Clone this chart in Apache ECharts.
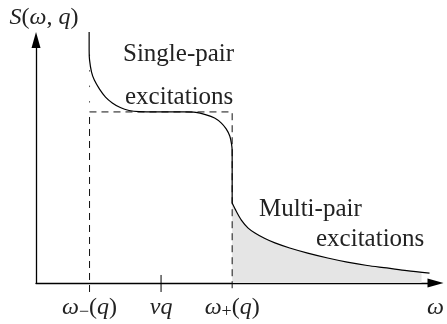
<!DOCTYPE html>
<html>
<head>
<meta charset="utf-8">
<script src="https://cdn.jsdelivr.net/npm/echarts@6/dist/echarts.min.js"></script>
<style>
  html, body { margin: 0; padding: 0; background: #fff; }
  #chart { width: 447px; height: 324px; }
</style>
</head>
<body>
<div id="chart"></div>
<script>
// Positions on the ω axis (arbitrary units, 0..100)
const omegaMinus = 13.4;
const vq = 31.3;
const omegaPlus = 49.1;
const omegaEnd = 100;

// Tick labels on the ω axis
const tickValues = [omegaMinus, vq, omegaPlus, omegaEnd];
const tickLabels = [
  '{it|ω}{sub|−}{rm|(}{it|q}{rm|)}',
  '{it|vq}',
  '{it|ω}{sub|+}{rm|(}{it|q}{rm|)}',
  '{it|ω}'
];

// Single-pair continuum: divergence at ω−, plateau, drop at ω+
const singleX = [13.3, 13.3, 13.4, 13.9, 14.6, 15.9, 17.4, 19.1, 21.1, 23.3, 25.8, 30.8, 37.0, 40.0, 42.4, 44.7, 46.4, 47.6, 48.5, 48.9, 49.1, 49.1];
const singleY = [103.3, 95.9, 91.8, 86.8, 83.5, 79.8, 76.5, 74.1, 72.2, 71.0, 70.5, 70.4, 70.4, 70.2, 69.3, 67.9, 65.8, 63.4, 60.5, 57.6, 54.7, 32.9];

// Multi-pair tail above ω+
const multiX = [49.1, 50.1, 51.4, 53.1, 54.8, 57.3, 59.8, 63.5, 68.0, 73.0, 77.9, 82.9, 87.8, 92.8, 98.5];
const multiY = [32.9, 29.6, 25.9, 22.6, 20.6, 18.3, 16.5, 14.4, 12.3, 10.3, 8.6, 7.2, 6.2, 5.1, 4.1];

// Shaded weight of the multi-pair tail
const shadeX = [49.1, 50.1, 51.4, 53.1, 54.8, 57.3, 59.8, 63.5, 68.0, 73.0, 77.9, 82.9, 87.8, 92.8, 96.5];
const shadeY = [32.9, 29.6, 25.9, 22.6, 20.6, 18.3, 16.5, 14.4, 12.3, 10.3, 8.6, 7.2, 6.2, 5.1, 4.5];

// Plateau level of the dashed box and its extent below the axis
const plateau = 70.4;
const dropBelow = -3.7;
const dottedTop = 94;
const vqTickTop = 3.3;

const zip = (xs, ys) => xs.map((x, i) => [x, ys[i]]);

const serif = '"Liberation Serif", "DejaVu Serif", serif';
const ink = '#222';
const mathRich = {
  it: { fontFamily: serif, fontStyle: 'italic', fontSize: 24, lineHeight: 26, color: ink },
  rm: { fontFamily: serif, fontSize: 24, lineHeight: 26, color: ink },
  sub: { fontFamily: serif, fontSize: 18, lineHeight: 13, verticalAlign: 'bottom', color: ink }
};

const chart = echarts.init(document.getElementById('chart'), null, { renderer: 'canvas' });

const plain = (extra) => Object.assign({
  type: 'line',
  symbol: 'none',
  silent: true,
  clip: false,
  animation: false
}, extra);

chart.setOption({
  animation: false,
  backgroundColor: '#fff',
  grid: { left: 36, right: 8, top: 40, bottom: 41 },
  xAxis: {
    type: 'value',
    min: 0,
    max: 100,
    axisLine: {
      show: true,
      symbol: ['none', 'triangle'],
      symbolSize: [9, 16],
      lineStyle: { color: '#000', width: 1.3 }
    },
    axisTick: { show: false },
    splitLine: { show: false },
    axisLabel: {
      customValues: tickValues,
      margin: 12,
      formatter: (v) => {
        const i = tickValues.indexOf(v);
        return i >= 0 ? tickLabels[i] : '';
      },
      rich: mathRich
    }
  },
  yAxis: {
    type: 'value',
    min: 0,
    max: 100,
    axisLine: {
      show: true,
      symbol: ['none', 'triangle'],
      symbolSize: [9, 16],
      lineStyle: { color: '#000', width: 1.3 }
    },
    axisTick: { show: false },
    axisLabel: { show: false },
    splitLine: { show: false },
    name: '{it|S}{rm|(}{it|ω}{rm|, }{it|q}{rm|)}',
    nameLocation: 'end',
    nameGap: 9,
    nameTextStyle: { padding: [0, 0, 0, 16], rich: mathRich }
  },
  graphic: [
    { type: 'text', left: 123, top: 42, silent: true,
      style: { text: 'Single-pair', font: '25px ' + serif, fill: ink } },
    { type: 'text', left: 125, top: 85, silent: true,
      style: { text: 'excitations', font: '25px ' + serif, fill: ink } },
    { type: 'text', left: 259, top: 197, silent: true,
      style: { text: 'Multi-pair', font: '25px ' + serif, fill: ink } },
    { type: 'text', left: 316, top: 227, silent: true,
      style: { text: 'excitations', font: '25px ' + serif, fill: ink } }
  ],
  series: [
    plain({
      name: 'multi-pair weight',
      data: zip(shadeX, shadeY),
      smooth: 0.3,
      lineStyle: { width: 0 },
      areaStyle: { color: '#e5e5e5', opacity: 1 },
      z: 1
    }),
    plain({
      name: 'single-pair',
      data: zip(singleX, singleY),
      smooth: 0.25,
      lineStyle: { color: '#000', width: 1.2 },
      z: 3
    }),
    plain({
      name: 'multi-pair',
      data: zip(multiX, multiY),
      smooth: 0.3,
      lineStyle: { color: '#000', width: 1.2 },
      z: 3
    }),
    plain({
      name: 'single-pair box',
      data: [[omegaMinus, dropBelow], [omegaMinus, plateau], [omegaPlus, plateau], [omegaPlus, dropBelow]],
      lineStyle: { color: '#111', width: 1, type: [7, 5] },
      z: 2
    }),
    plain({
      name: 'box extension',
      data: [[omegaMinus, dottedTop], [omegaMinus, plateau]],
      lineStyle: { color: '#555', width: 1, type: [1.5, 14] },
      z: 2
    }),
    plain({
      name: 'vq tick',
      data: [[vq, vqTickTop], [vq, dropBelow]],
      lineStyle: { color: '#000', width: 1 },
      z: 2
    })
  ]
});
</script>
</body>
</html>
